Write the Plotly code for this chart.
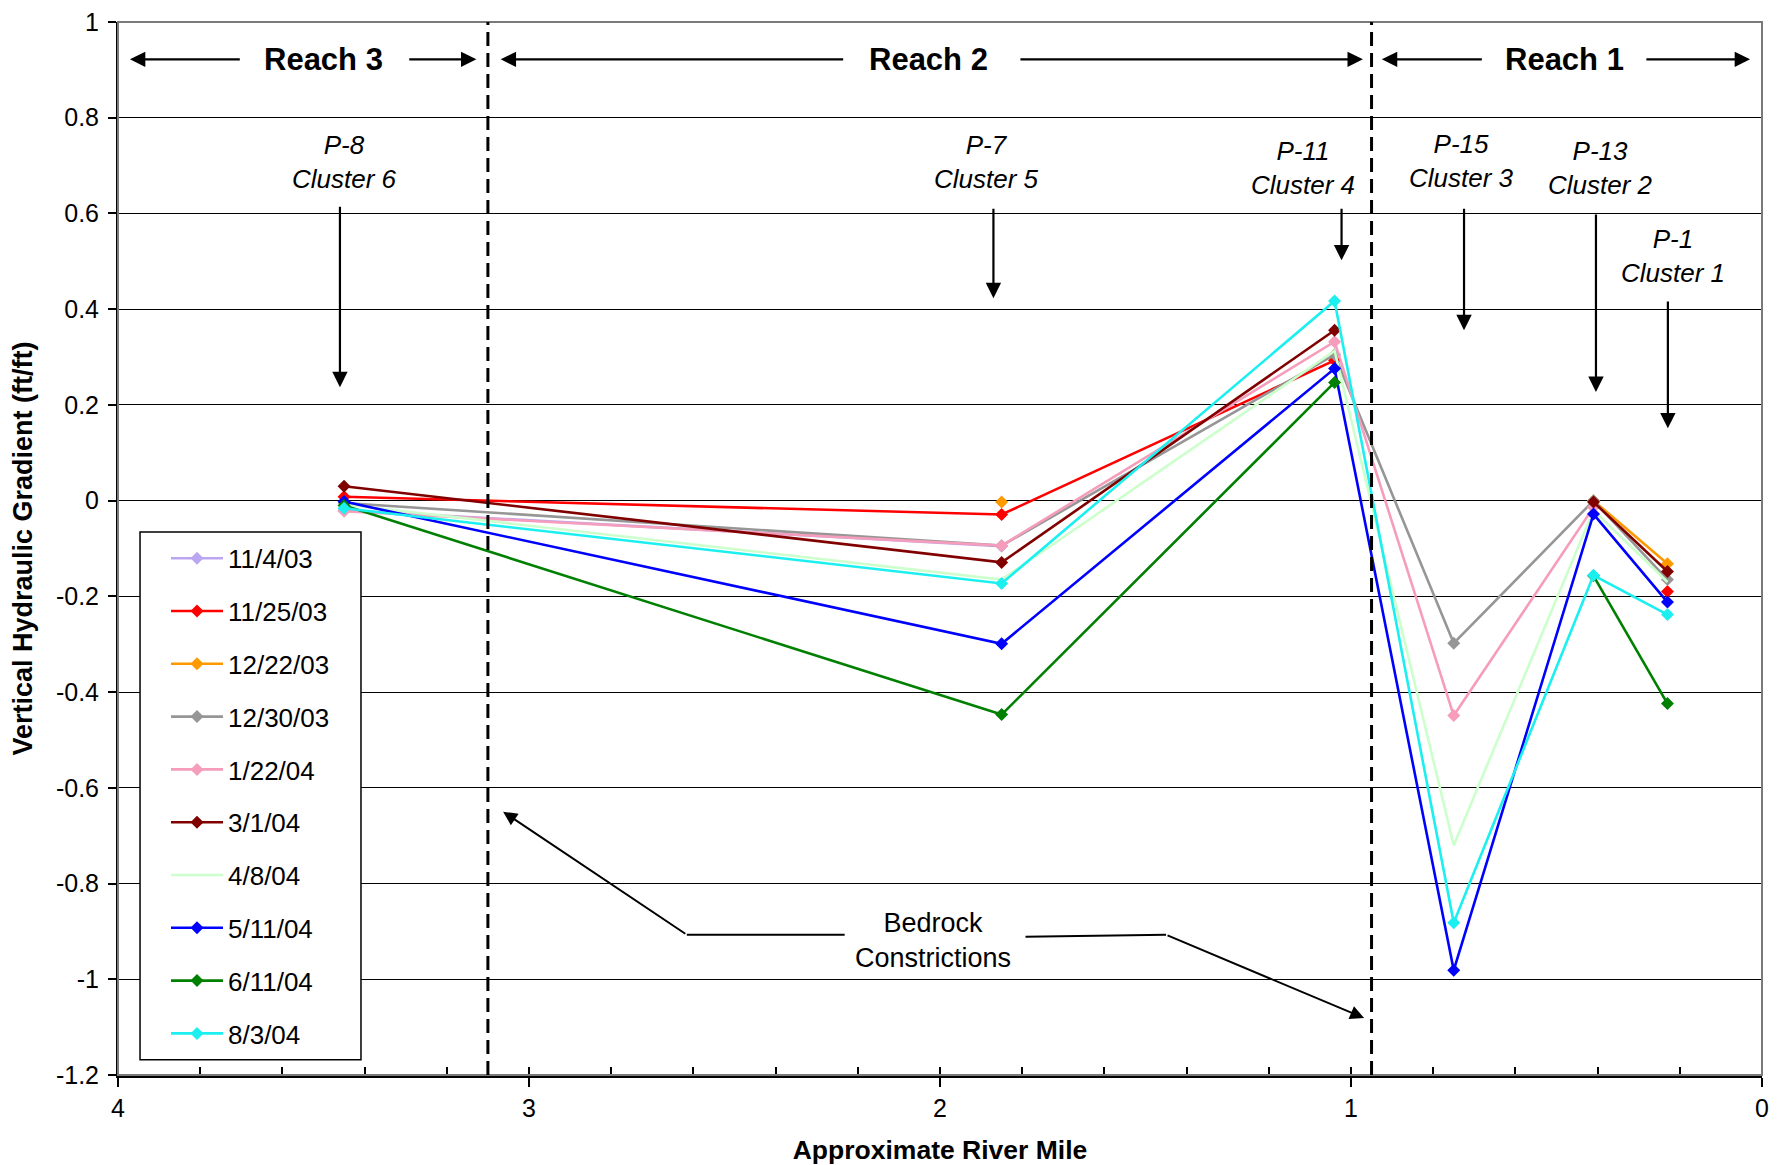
import plotly.graph_objects as go

# ---------------- data ----------------
river_mile = [3.45, 1.85, 1.04, 0.75, 0.41, 0.23]   # P-8, P-7, P-11, P-15, P-13, P-1

dates = ["11/4/03", "11/25/03", "12/22/03", "12/30/03", "1/22/04",
         "3/1/04", "4/8/04", "5/11/04", "6/11/04", "8/3/04"]

v_11_4_03 = [-0.020, -0.095, None, None, None, None]
v_11_25_03 = [0.008, -0.029, 0.293, None, None, -0.190]
v_12_22_03 = [None, -0.003, None, None, 0.000, -0.132]
v_12_30_03 = [-0.005, -0.094, 0.305, -0.298, 0.000, -0.165]
v_1_22_04 = [-0.022, -0.094, 0.332, -0.449, -0.014, None]
v_3_1_04 = [0.030, -0.129, 0.356, None, -0.003, -0.148]
v_4_8_04 = [-0.008, -0.165, 0.313, -0.720, -0.020, -0.170]
v_5_11_04 = [-0.002, -0.299, 0.276, -0.981, -0.028, -0.212]
v_6_11_04 = [-0.010, -0.447, 0.247, None, -0.157, -0.424]
v_8_3_04 = [-0.016, -0.173, 0.417, -0.882, -0.156, -0.238]

series_values = [v_11_4_03, v_11_25_03, v_12_22_03, v_12_30_03, v_1_22_04,
                 v_3_1_04, v_4_8_04, v_5_11_04, v_6_11_04, v_8_3_04]

colors = ["#BBA6F2", "#FF0000", "#FF9900", "#969696", "#F59DBB",
          "#800000", "#CCFFCC", "#0000FF", "#008000", "#1CEFEF"]

y_tickvals = [1, 0.8, 0.6, 0.4, 0.2, 0, -0.2, -0.4, -0.6, -0.8, -1, -1.2]
y_ticktext = ["1", "0.8", "0.6", "0.4", "0.2", "0", "-0.2", "-0.4", "-0.6", "-0.8", "-1", "-1.2"]
x_tickvals = [4, 3, 2, 1, 0]
x_ticktext = ["4", "3", "2", "1", "0"]

FONT = "Liberation Sans, Arial, sans-serif"

fig = go.Figure()
for name, vals, col in zip(dates, series_values, colors):
    faint = (name == "4/8/04")
    fig.add_trace(go.Scatter(
        x=river_mile, y=vals, name=name,
        mode="lines" if faint else "lines+markers",
        line=dict(color=col, width=2.6),
        marker=dict(symbol="diamond", size=10, color=col),
        legendgroup=name,
    ))

annotations = []

def arrow(x_tip, y_tip, x_tail, y_tail, head=2, size=1.4, width=2.2):
    annotations.append(dict(
        x=x_tip, y=y_tip, ax=x_tail, ay=y_tail, xref="x", yref="y",
        axref="x", ayref="y", text="", showarrow=True, arrowhead=head,
        arrowsize=size, arrowwidth=width, arrowcolor="black",
        standoff=0, startstandoff=0))

def label(x, y, text, size=25, bold=False, italic=False):
    t = text
    if bold:
        t = "<b>" + t + "</b>"
    if italic:
        t = "<i>" + t + "</i>"
    annotations.append(dict(x=x, y=y, xref="x", yref="y", text=t, showarrow=False,
                            font=dict(family=FONT, size=size, color="black"),
                            align="center"))

# Reach labels with arrows
label(3.50, 0.922, "Reach 3", size=31, bold=True)
arrow(3.971, 0.922, 3.70, 0.922)
arrow(3.128, 0.922, 3.295, 0.922)
label(2.028, 0.922, "Reach 2", size=31, bold=True)
arrow(3.069, 0.922, 2.232, 0.922)
arrow(0.971, 0.922, 1.808, 0.922)
label(0.480, 0.922, "Reach 1", size=31, bold=True)
arrow(0.925, 0.922, 0.678, 0.922)
arrow(0.029, 0.922, 0.285, 0.922)

# Well / cluster labels
label(3.448, 0.708, "P-8<br>Cluster 6", size=26, italic=True)
arrow(3.46, 0.237, 3.46, 0.617)
label(1.887, 0.708, "P-7<br>Cluster 5", size=26, italic=True)
arrow(1.870, 0.423, 1.870, 0.613)
label(1.117, 0.695, "P-11<br>Cluster 4", size=26, italic=True)
arrow(1.023, 0.502, 1.023, 0.613)
label(0.731, 0.709, "P-15<br>Cluster 3", size=26, italic=True)
arrow(0.725, 0.356, 0.725, 0.613)
label(0.394, 0.695, "P-13<br>Cluster 2", size=26, italic=True)
arrow(0.404, 0.227, 0.404, 0.601)
label(0.216, 0.511, "P-1<br>Cluster 1", size=26, italic=True)
arrow(0.229, 0.151, 0.229, 0.419)

# Bedrock constrictions
label(2.016, -0.918, "Bedrock<br>Constrictions", size=27)
arrow(3.063, -0.650, 2.616, -0.907, width=2)
arrow(0.968, -1.081, 1.45, -0.907, width=2)

shapes = [
    dict(type="rect", xref="paper", yref="paper", x0=0, x1=1, y0=0, y1=1,
         line=dict(color="#7a7a7a", width=2), layer="above"),
    dict(type="line", xref="x", yref="y", x0=3.1, x1=3.1, y0=-1.2, y1=1,
         line=dict(color="black", width=3, dash="14px,7px"), layer="above"),
    dict(type="line", xref="x", yref="y", x0=0.95, x1=0.95, y0=-1.2, y1=1,
         line=dict(color="black", width=3, dash="14px,7px"), layer="above"),
    dict(type="line", xref="x", yref="y", x0=2.232, x1=2.616, y0=-0.907, y1=-0.907,
         line=dict(color="black", width=2)),
    dict(type="line", xref="x", yref="y", x0=1.792, x1=1.45, y0=-0.911, y1=-0.907,
         line=dict(color="black", width=2)),
    # legend frame
    dict(type="rect", xref="paper", yref="paper", x0=0.0134, x1=0.1478, y0=0.0144, y1=0.5156,
         line=dict(color="black", width=1.5), fillcolor="white", layer="above"),
]

# page body has an 8px default margin: shrink the figure so the plot area lands where the reference has it
fig.update_layout(
    width=1776, height=1157,
    margin=dict(l=110, r=22, t=14, b=90, autoexpand=False),
    paper_bgcolor="white", plot_bgcolor="white",
    font=dict(family=FONT, size=25, color="black"),
    annotations=annotations, shapes=shapes,
    legend=dict(x=0.0292, y=0.513, xanchor="left", yanchor="top",
                bgcolor="rgba(0,0,0,0)", borderwidth=0,
                font=dict(family=FONT, size=26, color="black"),
                tracegroupgap=16, itemwidth=52),
    showlegend=True,
)

fig.update_xaxes(
    range=[4, 0], tickvals=x_tickvals, ticktext=x_ticktext,
    showgrid=False, zeroline=False, showline=True, linecolor="black", linewidth=2.5,
    ticks="outside", ticklen=9, tickwidth=1.5, tickcolor="black",
    minor=dict(dtick=0.2, ticks="inside", ticklen=8, tickwidth=1.5, tickcolor="black"),
    tickfont=dict(family=FONT, size=25, color="black"),
    ticklabeloverflow="allow",
    title=dict(text="<b>Approximate River Mile</b>", standoff=20,
               font=dict(family=FONT, size=26.5, color="black")),
    automargin=False,
)
fig.update_yaxes(
    range=[-1.2, 1], tickvals=y_tickvals, ticktext=y_ticktext,
    showgrid=True, gridcolor="black", gridwidth=1.2,
    zeroline=False, showline=True, linecolor="black", linewidth=2,
    ticks="outside", ticklen=8, tickwidth=1.5, tickcolor="black",
    ticklabelstandoff=4, ticklabeloverflow="allow",
    tickfont=dict(family=FONT, size=25, color="black"),
    title=dict(text="<b>Vertical Hydraulic Gradient (ft/ft)</b>", standoff=18,
               font=dict(family=FONT, size=27, color="black")),
    automargin=False,
)

fig.write_html("out.html")
